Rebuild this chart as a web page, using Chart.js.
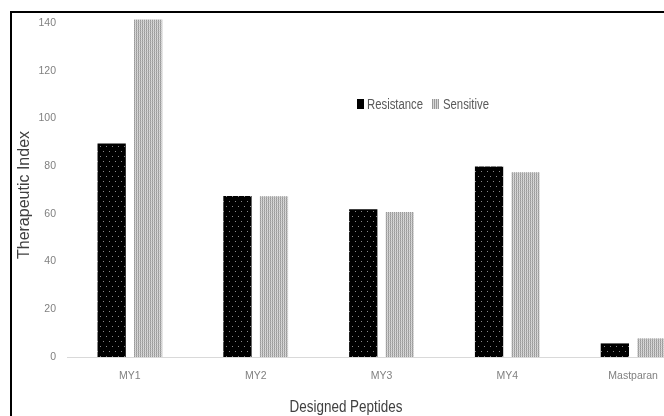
<!DOCTYPE html>
<html>
<head>
<meta charset="utf-8">
<script src="https://cdn.jsdelivr.net/npm/chart.js@4"></script>
<style>
    body { margin: 0; overflow: hidden; background: #fff; width: 664px; height: 416px; }
    #wrap { position: relative; width: 700px; height: 416px; }
    #frame { position: absolute; left: 10px; top: 11px; width: 720px; height: 420px;
             border-top: 2px solid #000; border-left: 2px solid #000; }
    .txt { position: absolute; font-family: 'Liberation Sans', Arial, sans-serif; white-space: nowrap; }
    #y-title { left: 24px; top: 195px; transform: translate(-50%, -50%) rotate(-90deg);
               font-size: 16px; color: #404040; }
    #x-title { left: 345.5px; top: 407px; transform: translate(-50%, -50%) scaleX(0.84);
               font-size: 16px; color: #404040; }
    .leg { top: 103.5px; font-size: 14px; color: #595959; transform: translateY(-50%) scaleX(0.81);
           transform-origin: left center; }
    .box { position: absolute; top: 99px; width: 7px; height: 10px; }
    #box-res { left: 357px; background: #000; }
    #box-sen { left: 432px; background: repeating-linear-gradient(90deg, #999 0 1px, #d8d8d8 1px 2px); }
</style>
</head>
<body>
<div id="wrap">
    <canvas id="barChart" width="700" height="416"></canvas>
    <div id="frame"></div>
    <div id="y-title" class="txt">Therapeutic Index</div>
    <div id="x-title" class="txt">Designed Peptides</div>
    <div id="box-res" class="box"></div>
    <div class="txt leg" style="left: 366.5px;">Resistance</div>
    <div id="box-sen" class="box"></div>
    <div class="txt leg" style="left: 442.5px;">Sensitive</div>
</div>
<script>
// Chart data
const categories = ['MY1', 'MY2', 'MY3', 'MY4', 'Mastparan'];
const resistance = [89.5, 67.5, 61.9, 79.8, 5.7];
const sensitive = [141.5, 67.4, 60.8, 77.4, 7.8];
const yMin = 0;
const yMax = 140;
const yStep = 20;

// Black bars with little grey dots
function dotPattern() {
    const c = document.createElement('canvas');
    c.width = 6;
    c.height = 10;
    const g = c.getContext('2d');
    g.fillStyle = '#000';
    g.fillRect(0, 0, 6, 10);
    g.fillStyle = '#8a8a8a';
    g.fillRect(1, 1, 1, 1);
    g.fillRect(4, 6, 1, 1);
    return g.createPattern(c, 'repeat');
}

// Light grey fine vertical stripes
function stripePattern() {
    const c = document.createElement('canvas');
    c.width = 2;
    c.height = 2;
    const g = c.getContext('2d');
    g.fillStyle = '#999';
    g.fillRect(0, 0, 1, 1);
    g.fillStyle = '#ababab';
    g.fillRect(0, 1, 1, 1);
    g.fillStyle = '#dcdcdc';
    g.fillRect(1, 0, 1, 1);
    g.fillStyle = '#cacaca';
    g.fillRect(1, 1, 1, 1);
    return g.createPattern(c, 'repeat');
}

const tickFont = { family: "'Liberation Sans', Arial, sans-serif", size: 10.5 };

const ctx = document.getElementById('barChart').getContext('2d');
new Chart(ctx, {
    type: 'bar',
    data: {
        labels: categories,
        datasets: [{
            label: 'Resistance',
            data: resistance,
            backgroundColor: dotPattern(),
            clip: false
        }, {
            label: 'Sensitive',
            data: sensitive,
            backgroundColor: stripePattern(),
            clip: false
        }]
    },
    options: {
        responsive: false,
        animation: false,
        categoryPercentage: 0.58,
        barPercentage: 0.775,
        layout: { padding: { left: 0, right: 4, top: 23, bottom: 0 } },
        plugins: {
            legend: { display: false },
            tooltip: { enabled: false }
        },
        scales: {
            x: {
                grid: { display: false, drawTicks: false },
                border: { display: true, color: '#d9d9d9', width: 1 },
                ticks: { color: '#808080', font: tickFont, padding: 13 },
                afterFit: function (scale) { scale.height = 59; }
            },
            y: {
                min: yMin,
                max: yMax,
                grid: { display: false, drawTicks: false },
                border: { display: false },
                ticks: { stepSize: yStep, color: '#808080', font: tickFont, padding: 11 },
                afterFit: function (scale) { scale.width = 67; }
            }
        }
    }
});
</script>
</body>
</html>
